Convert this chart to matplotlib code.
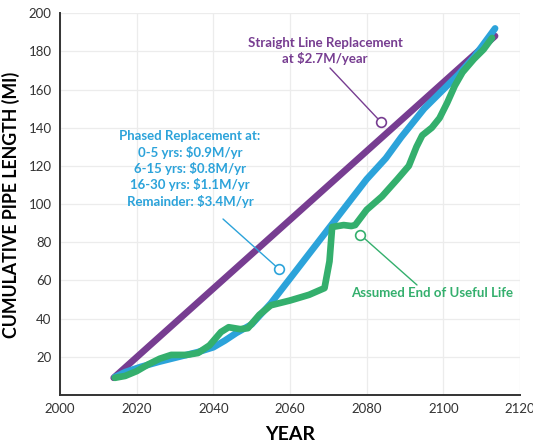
import matplotlib
matplotlib.use("Agg")
import matplotlib.pyplot as plt

plt.rcParams["font.family"] = ["Lato", "DejaVu Sans"]

# straight line replacement
straight_years = [2014, 2113.5]
straight_miles = [9, 188]

# phased replacement
phased_years = [2014.3, 2017, 2021, 2026, 2031, 2036, 2040, 2043, 2046, 2050, 2055,
                2060, 2065, 2070, 2075, 2080, 2085, 2089, 2095, 2100, 2104, 2108, 2113.5]
phased_miles = [9.4, 12, 14.7, 17.5, 20, 22.5, 25, 28.5, 32.5, 37, 48,
                61, 74, 87, 100, 113, 124, 135, 150, 160, 168, 177, 192]

# assumed end of useful life
useful_years = [2014.3, 2017, 2020, 2023, 2026, 2029, 2033, 2036, 2039, 2042, 2044, 2047,
                2049, 2052, 2055, 2060, 2065, 2069, 2070.3, 2071, 2074, 2076, 2077,
                2080, 2084, 2088, 2091, 2093, 2094.5, 2097, 2099, 2101, 2103, 2105,
                2108, 2110.5, 2112.7]
useful_miles = [9, 10, 12.5, 16, 19, 21, 21, 22, 26, 33, 35.5, 34.5,
                35, 42, 47, 49.5, 52.5, 56, 70, 88, 89, 88.5, 89,
                97, 104, 113, 120, 130, 136, 140, 145, 153, 162, 169,
                176, 181, 187]

x_ticks = [2000, 2020, 2040, 2060, 2080, 2100, 2120]
y_ticks = [20, 40, 60, 80, 100, 120, 140, 160, 180, 200]

purple = "#773D91"
blue = "#2CA3DA"
green = "#34AF6D"

fig = plt.figure(figsize=(5.33, 4.42), dpi=100)
ax = fig.add_axes([0.1126, 0.1063, 0.863, 0.864])

ax.plot(straight_years, straight_miles, color=purple, lw=4.8, solid_capstyle="round", zorder=3)
ax.plot(phased_years, phased_miles, color=blue, lw=4.8, solid_capstyle="round",
        solid_joinstyle="round", zorder=4)
ax.plot(useful_years, useful_miles, color=green, lw=4.8, solid_capstyle="round",
        solid_joinstyle="round", zorder=5)

ax.set_xlim(2000, 2120)
ax.set_ylim(0, 200)
ax.set_xticks(x_ticks)
ax.set_yticks(y_ticks)
ax.tick_params(length=0, labelsize=9.5, colors="#333333", pad=6)
ax.grid(True, color="#ECECEC", lw=0.9)
ax.set_axisbelow(True)
for s in ["top", "right"]:
    ax.spines[s].set_visible(False)
for s in ["left", "bottom"]:
    ax.spines[s].set_color("#333333")
    ax.spines[s].set_linewidth(1.4)

ax.set_xlabel("YEAR", fontsize=14, fontweight="bold", labelpad=8)
# the reference crops this label at the left edge
fig.text(0.0375, 0.536, "CUMULATIVE PIPE LENGTH (MI)", rotation=90, ha="right", va="center",
         fontsize=12.8, fontweight="bold")


def callout(text, color, text_xy, line_start, circle_xy):
    ax.annotate(text, xy=text_xy, xycoords="figure pixels", ha="center", va="center",
                fontsize=9.5, fontweight="bold", color=color, linespacing=1.3)
    ax.annotate("", xy=circle_xy, xytext=line_start, xycoords="data", textcoords="figure pixels",
                arrowprops=dict(arrowstyle="-", color=color, lw=1, shrinkA=0, shrinkB=3.5))
    ax.plot([circle_xy[0]], [circle_xy[1]], "o", ms=7, mfc="white", mec=color, mew=1.2, zorder=6)


H = 442
callout("Straight Line Replacement\nat $2.7M/year", purple, (325, H - 51), (330, H - 68), (2083.7, 143))
callout("Phased Replacement at:\n0-5 yrs: $0.9M/yr\n6-15 yrs: $0.8M/yr\n16-30 yrs: $1.1M/yr\nRemainder: $3.4M/yr",
        blue, (190, H - 169), (223, H - 219), (2057.1, 66))
callout("Assumed End of Useful Life", green, (432, H - 293), (417, H - 285), (2078.3, 84))

fig.savefig("out.png", dpi=100)
